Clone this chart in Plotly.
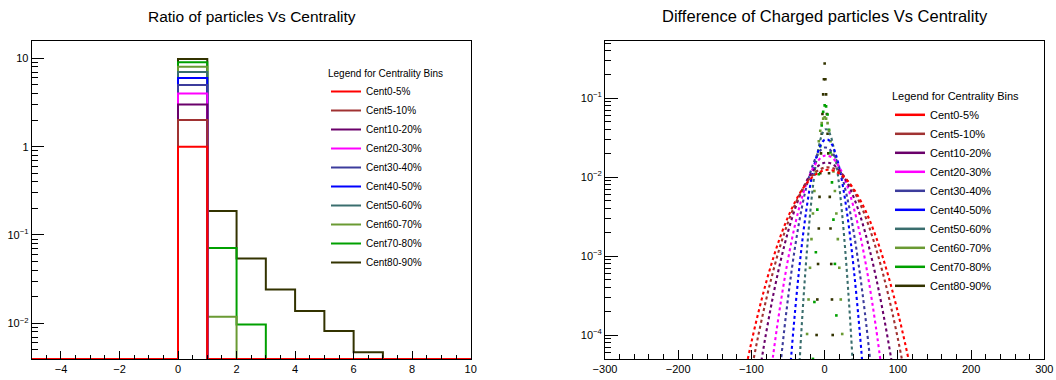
import plotly.graph_objects as go

# ---------------- data ----------------
categories = ["Cent0-5%", "Cent5-10%", "Cent10-20%", "Cent20-30%", "Cent30-40%",
              "Cent40-50%", "Cent50-60%", "Cent60-70%", "Cent70-80%", "Cent80-90%"]
colors = ["#ff0000", "#a03232", "#6a006a", "#ff00ff", "#3c3c9c",
          "#0000ff", "#3a6e6e", "#6a9a33", "#00a000", "#333300"]

# Left panel: ratio histograms, 15 bins of width 1 from -5 to 10
ratio_edges = [-5, -4, -3, -2, -1, 0, 1, 2, 3, 4, 5, 6, 7, 8, 9, 10]
ratio_0_5   = [0, 0, 0, 0, 0, 1, 0, 0, 0, 0, 0, 0, 0, 0, 0]
ratio_5_10  = [0, 0, 0, 0, 0, 2, 0, 0, 0, 0, 0, 0, 0, 0, 0]
ratio_10_20 = [0, 0, 0, 0, 0, 3, 0, 0, 0, 0, 0, 0, 0, 0, 0]
ratio_20_30 = [0, 0, 0, 0, 0, 4, 0, 0, 0, 0, 0, 0, 0, 0, 0]
ratio_30_40 = [0, 0, 0, 0, 0, 5, 0, 0, 0, 0, 0, 0, 0, 0, 0]
ratio_40_50 = [0, 0, 0, 0, 0, 6, 0, 0, 0, 0, 0, 0, 0, 0, 0]
ratio_50_60 = [0, 0, 0, 0, 0, 7, 0, 0, 0, 0, 0, 0, 0, 0, 0]
ratio_60_70 = [0, 0, 0, 0, 0, 8, 0.0119, 0, 0, 0, 0, 0, 0, 0, 0]
ratio_70_80 = [0, 0, 0, 0, 0, 9, 0.0713, 0.0097, 0, 0, 0, 0, 0, 0, 0]
ratio_80_90 = [0, 0, 0, 0, 0, 9.8, 0.187, 0.054, 0.0241, 0.0138, 0.0082, 0.0047, 0, 0, 0]
ratio_series = [ratio_0_5, ratio_5_10, ratio_10_20, ratio_20_30, ratio_30_40,
                ratio_40_50, ratio_50_60, ratio_60_70, ratio_70_80, ratio_80_90]

# Right panel: difference distributions
diff_x_0_5 = [-110, -100, -90, -80, -70, -60, -50, -40, -30, -20, -10, 0,
              10, 20, 30, 40, 50, 60, 70, 80, 90, 100, 110, 120]
diff_y_0_5 = [2.97e-5, 8.11e-5, 2.02e-4, 4.61e-4, 9.57e-4, 1.82e-3, 3.13e-3, 4.94e-3,
              7.13e-3, 9.35e-3, 1.12e-2, 1.226e-2, 1.224e-2, 1.11e-2, 9.25e-3, 7.01e-3,
              4.85e-3, 3.06e-3, 1.76e-3, 9.25e-4, 4.43e-4, 1.94e-4, 7.74e-5, 2.82e-5]
diff_x_5_10 = [-110, -100, -90, -80, -70, -60, -50, -40, -30, -20, -10, 0,
               10, 20, 30, 40, 50, 60, 70, 80, 90, 100, 110]
diff_y_5_10 = [1.08e-5, 3.55e-5, 1.05e-4, 2.78e-4, 6.59e-4, 1.41e-3, 2.68e-3, 4.59e-3,
               7.05e-3, 9.70e-3, 1.20e-2, 1.32e-2, 1.31e-2, 1.17e-2, 9.31e-3, 6.65e-3,
               4.27e-3, 2.45e-3, 1.26e-3, 5.83e-4, 2.42e-4, 8.97e-5, 2.99e-5]
diff_x_10_20 = [-100, -90, -80, -70, -60, -50, -40, -30, -20, -10, 0,
                10, 20, 30, 40, 50, 60, 70, 80, 90, 100]
diff_y_10_20 = [7.0e-6, 2.91e-5, 1.05e-4, 3.27e-4, 8.77e-4, 2.04e-3, 4.08e-3, 7.06e-3,
                1.06e-2, 1.36e-2, 1.52e-2, 1.47e-2, 1.22e-2, 8.81e-3, 5.47e-3, 2.94e-3,
                1.36e-3, 5.45e-4, 1.88e-4, 5.62e-5, 1.45e-5]
diff_x_20_30 = [-80, -70, -60, -50, -40, -30, -20, -10, 0, 10, 20, 30, 40, 50, 60, 70, 80]
diff_y_20_30 = [1.07e-5, 5.85e-5, 2.58e-4, 9.10e-4, 2.59e-3, 5.89e-3, 1.08e-2, 1.58e-2,
                1.87e-2, 1.77e-2, 1.34e-2, 8.19e-3, 4.01e-3, 1.58e-3, 4.98e-4, 1.26e-4, 2.56e-5]
diff_x_30_40 = [-65, -60, -55, -50, -45, -40, -35, -30, -25, -20, -15, -10, -5, 0,
                5, 10, 15, 20, 25, 30, 35, 40, 45, 50, 55, 60, 65]
diff_y_30_40 = [1.55e-5, 4.48e-5, 1.20e-4, 2.94e-4, 6.64e-4, 1.38e-3, 2.64e-3, 4.63e-3,
                7.50e-3, 1.11e-2, 1.52e-2, 1.92e-2, 2.22e-2, 2.37e-2, 2.32e-2, 2.08e-2,
                1.73e-2, 1.32e-2, 9.25e-3, 5.96e-3, 3.53e-3, 1.93e-3, 9.66e-4, 4.46e-4,
                1.90e-4, 7.40e-5, 2.66e-5]
diff_x_40_50 = [-50, -45, -40, -35, -30, -25, -20, -15, -10, -5, 0,
                5, 10, 15, 20, 25, 30, 35, 40, 45, 50, 55]
diff_y_40_50 = [1.65e-5, 6.46e-5, 2.20e-4, 6.55e-4, 1.70e-3, 3.85e-3, 7.62e-3, 1.32e-2,
                1.98e-2, 2.59e-2, 2.98e-2, 2.98e-2, 2.59e-2, 1.98e-2, 1.32e-2, 7.62e-3,
                3.85e-3, 1.70e-3, 6.55e-4, 2.20e-4, 6.46e-5, 1.65e-5]
diff_x_50_60 = [-36, -32, -28, -24, -20, -16, -12, -8, -4, 0,
                4, 8, 12, 16, 20, 24, 28, 32, 36, 40]
diff_y_50_60 = [2.31e-5, 1.03e-4, 3.86e-4, 1.23e-3, 3.33e-3, 7.62e-3, 1.48e-2, 2.43e-2,
                3.39e-2, 4.00e-2, 4.00e-2, 3.39e-2, 2.43e-2, 1.48e-2, 7.62e-3, 3.33e-3,
                1.23e-3, 3.86e-4, 1.03e-4, 2.31e-5]
diff_x_60_70 = [-28, -26, -24, -22, -20, -18, -16, -14, -12, -10, -8, -6, -4, -2, 0,
                2, 4, 6, 8, 10, 12, 14, 16, 18, 20, 22, 24, 26, 28]
diff_y_60_70 = [1.05e-5, 3.43e-5, 1.03e-4, 2.82e-4, 7.11e-4, 1.64e-3, 3.46e-3, 6.68e-3,
                1.18e-2, 1.92e-2, 2.85e-2, 3.87e-2, 4.83e-2, 5.51e-2, 5.75e-2,
                5.51e-2, 4.83e-2, 3.87e-2, 2.85e-2, 1.92e-2, 1.18e-2, 6.68e-3, 3.46e-3,
                1.64e-3, 7.11e-4, 2.82e-4, 1.03e-4, 3.43e-5, 1.05e-5]
diff_x_70_80 = [-18, -16, -14, -12, -10, -8, -6, -4, -2, 0, 2, 4, 6, 8, 10, 12, 14, 16, 18]
diff_y_70_80 = [7.6e-6, 4.98e-5, 2.62e-4, 1.12e-3, 3.88e-3, 1.09e-2, 2.47e-2, 4.53e-2,
                6.73e-2, 8.11e-2, 7.89e-2, 6.22e-2, 3.97e-2, 2.05e-2, 8.59e-3, 2.90e-3,
                7.96e-4, 1.77e-4, 3.18e-5]
diff_x_80_90 = [-12, -11, -10, -9, -8, -7, -6, -5, -4, -3, -2, -1, 0,
                1, 2, 3, 4, 5, 6, 7, 8, 9, 10, 11, 12]
diff_y_80_90 = [3.16e-5, 1.0e-4, 2.82e-4, 7.94e-4, 2.24e-3, 5.62e-3, 1.12e-2, 2.00e-2,
                3.55e-2, 6.31e-2, 0.112, 0.174, 0.275, 0.174, 0.112, 6.31e-2, 3.55e-2,
                2.00e-2, 1.12e-2, 5.62e-3, 2.24e-3, 7.94e-4, 2.82e-4, 1.0e-4, 3.16e-5]
diff_xs = [diff_x_0_5, diff_x_5_10, diff_x_10_20, diff_x_20_30, diff_x_30_40,
           diff_x_40_50, diff_x_50_60, diff_x_60_70, diff_x_70_80, diff_x_80_90]
diff_ys = [diff_y_0_5, diff_y_5_10, diff_y_10_20, diff_y_20_30, diff_y_30_40,
           diff_y_40_50, diff_y_50_60, diff_y_60_70, diff_y_70_80, diff_y_80_90]

# ---------------- figure ----------------
W, H = 1056, 380
FONT = "Liberation Sans, Arial, sans-serif"
left_ylog = [-2.404, 1.196]
right_ylog = [-4.304, -0.275]
left_floor = 10 ** left_ylog[0]

fig = go.Figure()

# left histograms, drawn last-to-first so Cent0-5% ends on top
for i in reversed(range(len(categories))):
    vals = [v if v > 0 else left_floor for v in ratio_series[i]]
    fig.add_trace(go.Scatter(
        x=ratio_edges, y=vals + [vals[-1]], mode="lines", line_shape="hv",
        line=dict(color=colors[i], width=2), name=categories[i],
        legend="legend", xaxis="x", yaxis="y",
    ))

# right distributions: wide ones as dotted curves, narrow ones as point markers
for i in reversed(range(len(categories))):
    if i < 7:
        fig.add_trace(go.Scatter(
            x=diff_xs[i], y=diff_ys[i], mode="lines", line_shape="spline",
            line=dict(color=colors[i], width=2.1, dash="dot"),
            showlegend=False, xaxis="x2", yaxis="y2",
        ))
    else:
        fig.add_trace(go.Scatter(
            x=diff_xs[i], y=diff_ys[i], mode="markers",
            marker=dict(color=colors[i], size=2.6, symbol="square", line=dict(width=0)),
            showlegend=False, xaxis="x2", yaxis="y2",
        ))
for i in range(len(categories)):
    fig.add_trace(go.Scatter(
        x=[None], y=[None], mode="lines", line=dict(color=colors[i], width=2.5),
        name=categories[i], legend="legend2", xaxis="x2", yaxis="y2",
    ))

ydom = [21 / H, 339 / H]
axis_common = dict(showline=True, linecolor="black", linewidth=1, mirror=True,
                   showgrid=False, zeroline=False, ticks="inside", tickcolor="black",
                   automargin=False,
                   tickfont=dict(family=FONT, size=11, color="black"))

fig.update_layout(
    width=W, height=H, margin=dict(l=0, r=0, t=0, b=0, autoexpand=False),
    paper_bgcolor="white", plot_bgcolor="white",
    font=dict(family=FONT, color="black"),
    xaxis=dict(domain=[31.7 / W, 470.7 / W], range=[-5, 10], dtick=2, tick0=0,
               ticklen=8, minor=dict(ticks="inside", dtick=0.5, ticklen=4, tickcolor="black"),
               anchor="y", **axis_common),
    yaxis=dict(domain=ydom, type="log", range=left_ylog,
               tickvals=[0.01, 0.1, 1, 10],
               ticktext=["10<sup>−2</sup>", "10<sup>−1</sup>", "1", "10"],
               ticklen=12, minor=dict(ticks="inside", dtick="D1", ticklen=6, tickcolor="black"),
               anchor="x", **axis_common),
    xaxis2=dict(domain=[605 / W, 1044.3 / W], range=[-300, 300], dtick=100, tick0=0,
                ticklen=9, minor=dict(ticks="inside", dtick=20, ticklen=5, tickcolor="black"),
                anchor="y2", **axis_common),
    yaxis2=dict(domain=ydom, type="log", range=right_ylog,
                tickvals=[1e-4, 1e-3, 1e-2, 1e-1],
                ticktext=["10<sup>−4</sup>", "10<sup>−3</sup>", "10<sup>−2</sup>", "10<sup>−1</sup>"],
                ticklen=13, minor=dict(ticks="inside", dtick="D1", ticklen=6, tickcolor="black"),
                anchor="x2", **axis_common),
    legend=dict(x=326 / W, y=1 - 64 / H, xanchor="left", yanchor="top",
                bgcolor="rgba(0,0,0,0)", borderwidth=0, traceorder="reversed",
                font=dict(family=FONT, size=10, color="black"),
                title=dict(text="Legend for Centrality Bins",
                           font=dict(family=FONT, size=10, color="black"))),
    legend2=dict(x=890 / W, y=1 - 86 / H, xanchor="left", yanchor="top",
                 bgcolor="rgba(0,0,0,0)", borderwidth=0, traceorder="normal",
                 font=dict(family=FONT, size=11, color="black"),
                 title=dict(text="Legend for Centrality Bins",
                            font=dict(family=FONT, size=11, color="black"))),
    annotations=[
        dict(text="Ratio of particles Vs Centrality", x=252 / W, y=1 - 16 / H,
             xref="paper", yref="paper", showarrow=False, xanchor="center", yanchor="middle",
             font=dict(family=FONT, size=15.5, color="black")),
        dict(text="Difference of Charged particles Vs Centrality", x=825 / W, y=1 - 16 / H,
             xref="paper", yref="paper", showarrow=False, xanchor="center", yanchor="middle",
             font=dict(family=FONT, size=16.5, color="black")),
    ],
)

fig.write_html("out.html")
